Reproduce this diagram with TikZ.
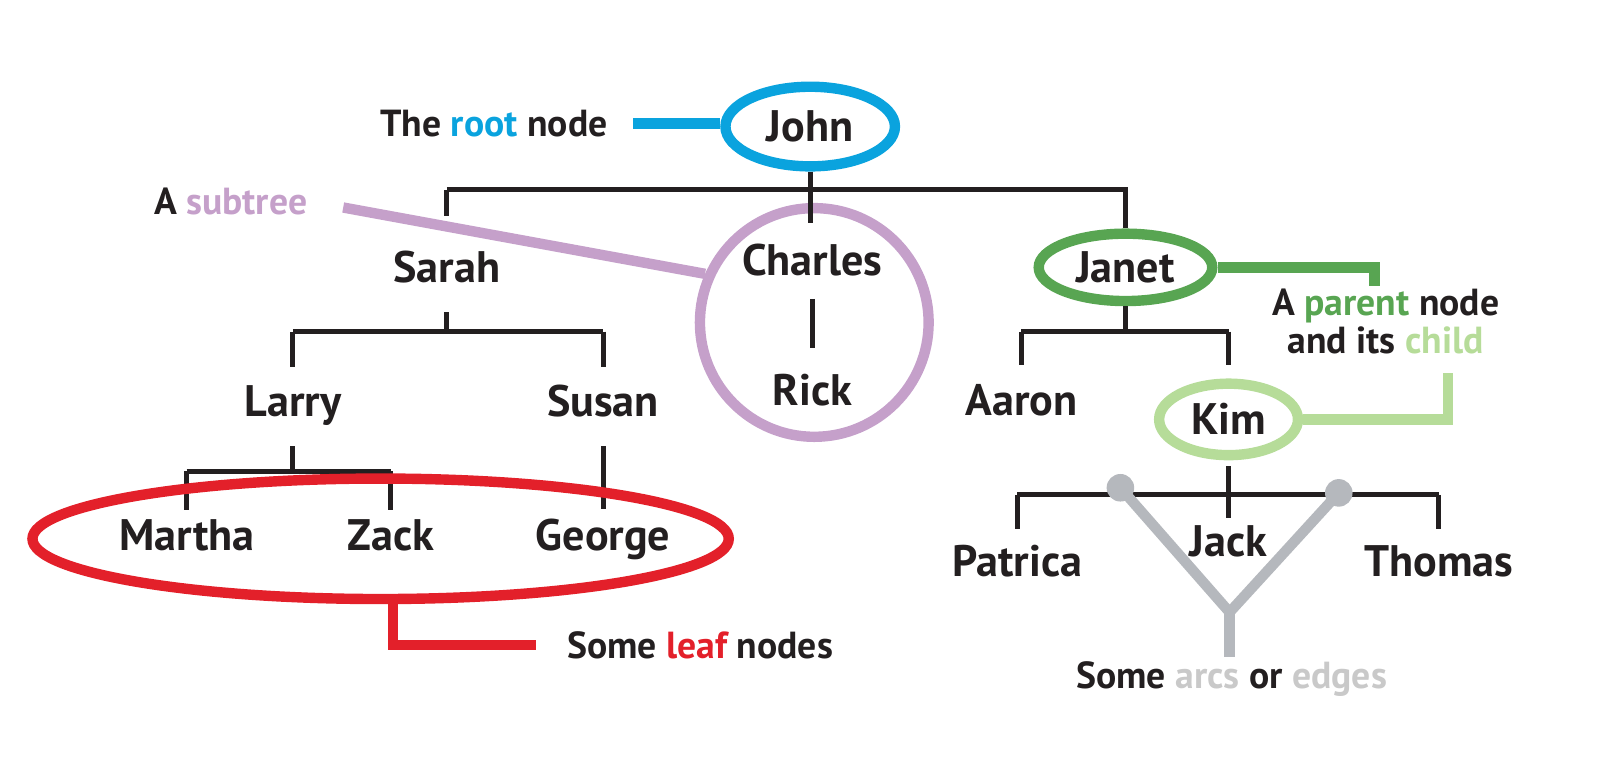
\documentclass[tikz,border=0pt]{standalone}
\usepackage{fontspec}
\setmainfont{PT Sans}
\usetikzlibrary{shapes.geometric}
\definecolor{ink}{HTML}{231F20}
\definecolor{rootblue}{HTML}{0AA3DE}
\definecolor{subtreepurple}{HTML}{C5A0CA}
\definecolor{leafred}{HTML}{E3202A}
\definecolor{parentgreen}{HTML}{58A552}
\definecolor{childgreen}{HTML}{B6DC99}
\definecolor{arcgray}{HTML}{B5B8BD}
\definecolor{arctext}{HTML}{C9C9C9}
\begin{document}
\begin{tikzpicture}[x=0.01cm,y=-0.01cm,
        person/.style={font=\bfseries\fontsize{12.3}{14}\selectfont,text=ink,inner sep=0pt,text height=10.5pt,text depth=2pt},
        remark/.style={font=\bfseries\fontsize{10.5}{10.7}\selectfont,text=ink,inner sep=0pt,align=center},
        branch/.style={draw=ink,line width=1.4pt},
        pointer/.style={line width=2.9pt},
        hoop/.style={ellipse,draw=#1,line width=2.9pt,inner sep=0pt},
        knob/.style={circle,fill=arcgray,inner sep=0pt,minimum size=0.27cm}]
        \useasboundingbox (0,0) rectangle (1568,744);
        %% the subtree ring goes first, the branches run over it
        \node[circle,draw=subtreepurple,line width=2.9pt,minimum size=2.24cm] (subtree) at (798,316) {};
        %% people
        \node[person,hoop=rootblue,minimum width=1.66cm,minimum height=0.78cm] (john) at (794,124) {John};
        \node[person] (sarah) at (438,262) {Sarah};
        \node[person] (charles) at (796,255) {Charles};
        \node[person] (rick) at (796,382) {Rick};
        \node[person,hoop=parentgreen,minimum width=1.70cm,minimum height=0.66cm] (janet) at (1103,262) {Janet};
        \node[person] (larry) at (287,393) {Larry};
        \node[person] (susan) at (591,393) {Susan};
        \node[person] (aaron) at (1001,392) {Aaron};
        \node[person,hoop=childgreen,minimum width=1.36cm,minimum height=0.70cm] (kim) at (1204,411) {Kim};
        \node[person] (martha) at (183,525) {Martha};
        \node[person] (zack) at (383,525) {Zack};
        \node[person] (george) at (591,525) {George};
        \node[person] (patrica) at (997,550) {Patrica};
        \node[person] (jack) at (1204,530) {Jack};
        \node[person] (thomas) at (1410,550) {Thomas};
        %% notes
        \node[remark] (rootnote) at (484,121) {The \textcolor{rootblue}{root} node};
        \node[remark] (subtreenote) at (226,197) {A \textcolor{subtreepurple}{subtree}};
        \node[remark] (parentnote) at (1358,315) {A \textcolor{parentgreen}{parent} node\\and its \textcolor{childgreen}{child}};
        \node[remark] (leafnote) at (686,632) {Some \textcolor{leafred}{leaf} nodes};
        \node[remark] (arcnote) at (1207,665) {Some \textcolor{arctext}{arcs} or \textcolor{arctext}{edges}};
        %% branches
        \coordinate (johnbar) at (0,186);
        \coordinate (sarahbar) at (0,325);
        \coordinate (larrybar) at (0,462);
        \coordinate (janetbar) at (0,325);
        \coordinate (kimbar) at (0,485);
        \draw[branch] (john.south) -- ++(0,50);
        \draw[branch] (sarah |- johnbar) -- (janet |- johnbar) -- (janet.north);
        \draw[branch] (sarah |- johnbar) -- ++(0,26);
        \draw[branch,shorten <=4.3pt,shorten >=5.1pt] (charles) -- (rick);
        \draw[branch,shorten <=6pt] (sarah) -- (sarah |- sarahbar);
        \draw[branch] (larry |- sarahbar) -- (susan |- sarahbar);
        \foreach \kid in {larry,susan}
            \draw[branch] (\kid |- sarahbar) -- ++(0,35);
        \draw[branch,shorten <=6.2pt] (larry) -- (larry |- larrybar);
        \draw[branch] (martha |- larrybar) -- (zack |- larrybar);
        \foreach \kid in {martha,zack}
            \draw[branch] (\kid |- larrybar) -- ++(0,38);
        \draw[branch,shorten <=6.2pt,shorten >=0.9pt] (susan) -- (george);
        \draw[branch] (janet.south) -- (janet |- janetbar);
        \draw[branch] (aaron |- janetbar) -- (kim |- janetbar);
        \foreach \kid in {aaron,kim}
            \draw[branch] (\kid |- janetbar) -- ++(0,33);
        \draw[branch,shorten <=1.7pt] (kim) -- (jack);
        \draw[branch] (patrica |- kimbar) -- (thomas |- kimbar);
        \foreach \kid in {patrica,thomas}
            \draw[branch] (\kid |- kimbar) -- ++(0,33);
        %% pointers
        \draw[pointer,rootblue,shorten <=7pt] (rootnote.east) -- (rootnote.east -| john.west);
        \draw[pointer,subtreepurple,shorten <=10pt] (subtreenote.east) -- (subtree.156);
        \coordinate (parenttip) at (1347,280);
        \draw[pointer,parentgreen] (janet.east) -| (parenttip);
        \coordinate (childtip) at (1419,366);
        \draw[pointer,childgreen] (kim.east) -| (childtip);
        \node[hoop=leafred,minimum width=6.82cm,minimum height=1.18cm] (leaves) at (373,528) {};
        \draw[pointer,leafred,shorten >=8.5pt] ([xshift=3.4pt]leaves.south) |- (leafnote.west);
        %% arcs
        \node[knob] (leftknob) at (1098,478) {};
        \node[knob] (rightknob) at (1312,483) {};
        \coordinate (arcfork) at (1205,600);
        \draw[pointer,arcgray] (leftknob.center) -- (arcfork) -- (rightknob.center);
        \draw[pointer,arcgray,shorten >=1pt] (arcfork) -- (arcfork |- arcnote.north);
\end{tikzpicture}
\end{document}
